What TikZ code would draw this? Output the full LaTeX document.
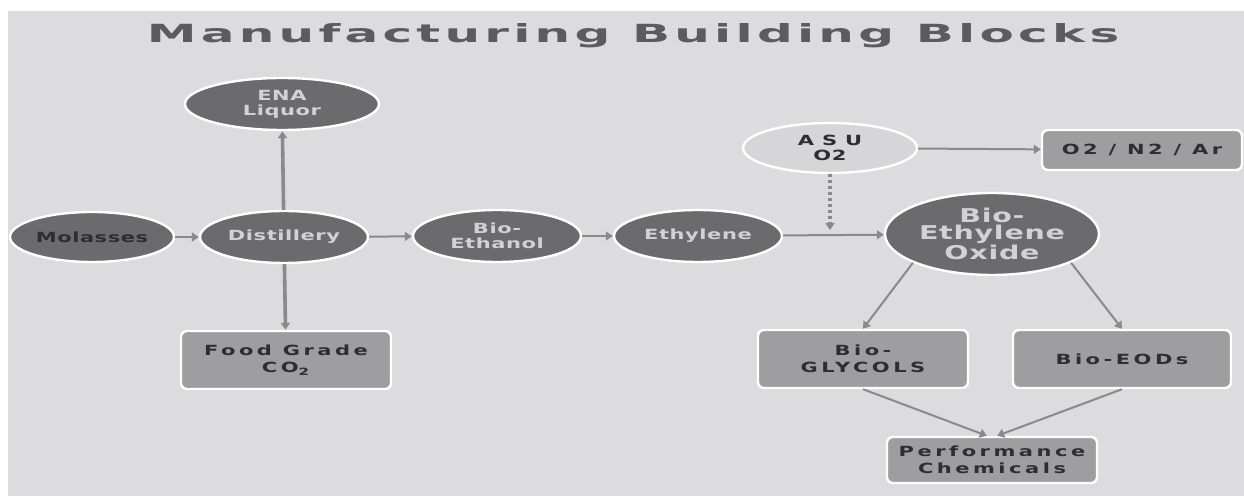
\documentclass[tikz,border=0pt]{standalone}
\usepackage{fontspec}
\usetikzlibrary{shapes.geometric,arrows.meta}
\setmainfont{DejaVu Sans}
\newfontfamily\titlefont{DejaVu Sans Bold}[FakeStretch=2.0,LetterSpace=17]
\newfontfamily\blobfont{DejaVu Sans Bold}[FakeStretch=1.5,LetterSpace=4]
\newfontfamily\boxfont{DejaVu Sans Bold}[FakeStretch=1.5,LetterSpace=25]

\definecolor{panelgray}{HTML}{DCDCDE}
\definecolor{blobdark}{HTML}{6B6B6D}
\definecolor{boxgray}{HTML}{9E9EA0}
\definecolor{asugray}{HTML}{D6D6D8}
\definecolor{linegray}{HTML}{8A8A8C}
\definecolor{lighttext}{HTML}{D2D2D4}
\definecolor{darktext}{HTML}{2E2E2E}
\definecolor{titlegray}{HTML}{5C5C5E}

\begin{document}
\begin{tikzpicture}[x=0.5pt,y=-0.5pt,
    blob/.style={ellipse,fill=blobdark,draw=white,line width=1.2pt,inner sep=0pt,
      align=center,text=lighttext,minimum width=84pt,minimum height=26pt,
      font=\blobfont\fontsize{7pt}{7.5pt}\selectfont},
    block/.style={rectangle,rounded corners=3pt,fill=boxgray,draw=white,line width=1.2pt,
      inner sep=0pt,align=center,text=darktext,minimum width=105pt,minimum height=29pt,
      font=\boxfont\fontsize{7pt}{8.5pt}\selectfont},
    flow/.style={draw=linegray,line width=1pt,-{Triangle[width=4.5pt,length=3.5pt]}},
    thickflow/.style={flow,line width=1.8pt},
    dotflow/.style={flow,line width=2pt,dash pattern=on 1.5pt off 1.5pt}]

    % Page and panel
    \useasboundingbox (0,0) rectangle (1244,496);
    \fill[white] (0,0) rectangle (1244,496);
    \fill[panelgray] (8,11) rectangle (1244,496);

    % Title
    \node[anchor=base,text=titlegray,font=\titlefont\fontsize{12.5pt}{14pt}\selectfont]
      (title) at (633,43) {Manufacturing Building Blocks};

    % Sugar route
    \node[blob,text=darktext,minimum width=82pt,minimum height=25pt] (molasses) at (92,237) {Molasses};
    \node[blob] (distillery) at (284,237) {Distillery};
    \node[blob,minimum width=97pt] (ena) at (282,104) {ENA\\Liquor};
    \node[block] (foodco) at (286,360) {Food Grade\\CO\textsubscript{2}};
    \node[blob] (ethanol) at (497,236) {Bio-\\Ethanol};
    \node[blob] (ethylene) at (698,236) {Ethylene};

    % Oxide route
    \node[blob,fill=asugray,text=darktext,minimum width=87pt,minimum height=25pt] (asu) at (830,148) {A S U\\O2};
    \node[block,minimum width=100pt,minimum height=20pt] (gases) at (1142,150) {O2 / N2 / Ar};
    \node[blob,minimum width=107pt,minimum height=41pt,
      font=\blobfont\fontsize{9.5pt}{8.5pt}\selectfont] (oxide) at (992,234) {Bio-\\Ethylene\\Oxide};
    \node[block] (glycols) at (863,359) {Bio-\\GLYCOLS};
    \node[block,minimum width=109pt] (eods) at (1122,359) {Bio-EODs};
    \node[block,minimum height=23pt] (perf) at (992,460) {Performance\\Chemicals};

    % Join point on the ethylene line
    \coordinate (merge) at (830,230);

    % Connectors
    \draw[flow] (molasses) -- (distillery);
    \draw[thickflow] (distillery) -- (ena);
    \draw[thickflow] (distillery) -- (foodco);
    \draw[flow] (distillery) -- (ethanol);
    \draw[flow] (ethanol) -- (ethylene);
    \draw[flow] (ethylene) -- (oxide);
    \draw[flow] (asu) -- (gases);
    \draw[dotflow] (asu) -- (merge);
    \draw[flow] (oxide.200) -- (glycols.north);
    \draw[flow] (oxide.-20) -- (eods.north);
    \draw[flow] (glycols.south) -- (perf.102);
    \draw[flow] (eods.south) -- (perf.78);
\end{tikzpicture}
\end{document}
